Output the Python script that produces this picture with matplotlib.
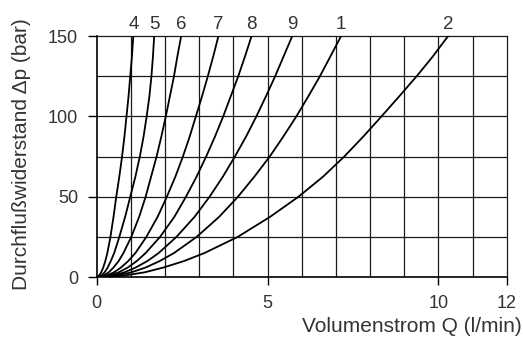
import matplotlib
matplotlib.use("Agg")
import matplotlib.pyplot as plt

# pressure levels (bar) at which the flow of each curve was read
dp_levels = [0, 1, 3, 6, 10, 15, 25, 37.5, 50, 62.5, 75, 87.5, 100, 112.5, 125, 137.5, 150]

# flow Q (l/min) of each curve at those pressure levels
q_4 = [0, 0.07, 0.13, 0.19, 0.25, 0.31, 0.40, 0.49, 0.57, 0.66, 0.74, 0.81, 0.87, 0.93, 0.98, 1.03, 1.07]
q_5 = [0, 0.13, 0.23, 0.32, 0.41, 0.51, 0.66, 0.83, 0.98, 1.13, 1.26, 1.37, 1.46, 1.54, 1.60, 1.645, 1.68]
q_6 = [0, 0.20, 0.35, 0.49, 0.64, 0.78, 1.01, 1.24, 1.43, 1.59, 1.75, 1.89, 2.02, 2.14, 2.26, 2.36, 2.47]
q_7 = [0, 0.29, 0.50, 0.71, 0.92, 1.13, 1.45, 1.78, 2.05, 2.30, 2.52, 2.72, 2.90, 3.08, 3.25, 3.41, 3.56]
q_8 = [0, 0.37, 0.64, 0.91, 1.17, 1.43, 1.85, 2.27, 2.61, 2.92, 3.20, 3.46, 3.70, 3.92, 4.14, 4.34, 4.53]
q_9 = [0, 0.47, 0.81, 1.14, 1.48, 1.81, 2.33, 2.86, 3.30, 3.69, 4.04, 4.37, 4.67, 4.95, 5.22, 5.47, 5.72]
q_1 = [0, 0.59, 1.01, 1.43, 1.84, 2.26, 2.92, 3.58, 4.13, 4.61, 5.06, 5.46, 5.84, 6.19, 6.53, 6.84, 7.15]
q_2 = [0, 0.80, 1.40, 1.95, 2.55, 3.15, 4.12, 5.07, 5.90, 6.62, 7.24, 7.80, 8.33, 8.85, 9.36, 9.84, 10.28]

curve_labels = ["4", "5", "6", "7", "8", "9", "1", "2"]
curves = [q_4, q_5, q_6, q_7, q_8, q_9, q_1, q_2]

x_ticks = [0, 5, 10, 12]
y_ticks = [0, 50, 100, 150]

plt.rcParams['font.family'] = ['Liberation Sans', 'DejaVu Sans']
text_col = '#333333'

fig = plt.figure(figsize=(5.23, 3.38), dpi=100)
ax = fig.add_axes([0.185, 0.180, 0.784, 0.713])

# grid
for gx in range(1, 12):
    ax.axvline(gx, color='#1a1a1a', lw=0.9, zorder=1)
for gy in range(25, 150, 25):
    ax.axhline(gy, color='#1a1a1a', lw=0.9, zorder=1)

for lab, q in zip(curve_labels, curves):
    ax.plot(q, dp_levels, color='black', lw=1.3, zorder=3, solid_joinstyle='round')
    ax.annotate(lab, xy=(q[-1], dp_levels[-1]), xytext=(0, 5.5),
                textcoords='offset points', ha='center', va='baseline',
                fontsize=13.5, color=text_col, annotation_clip=False)

ax.set_xlim(0, 12)
ax.set_ylim(0, 150)
ax.set_xticks(x_ticks)
ax.set_yticks(y_ticks)
ax.tick_params(axis='x', direction='out', length=5.5, width=1, pad=7.5,
               labelsize=13, labelcolor=text_col)
ax.tick_params(axis='y', direction='out', length=6.5, width=1, pad=7,
               labelsize=13, labelcolor=text_col)
for side in ['top', 'right']:
    ax.spines[side].set_linewidth(0.9)
    ax.spines[side].set_color('#1a1a1a')
for side in ['left', 'bottom']:
    ax.spines[side].set_linewidth(1.2)

fig.text(0.997, 1 - 326 / 338, "Volumenstrom Q (l/min)", ha='right', va='center',
         fontsize=15, color=text_col)
fig.text(22 / 523, 1 - 154 / 338, "Durchflußwiderstand \u0394p (bar)", ha='center',
         va='center', rotation=90, fontsize=15, color=text_col)

fig.savefig("out.png", dpi=100)
